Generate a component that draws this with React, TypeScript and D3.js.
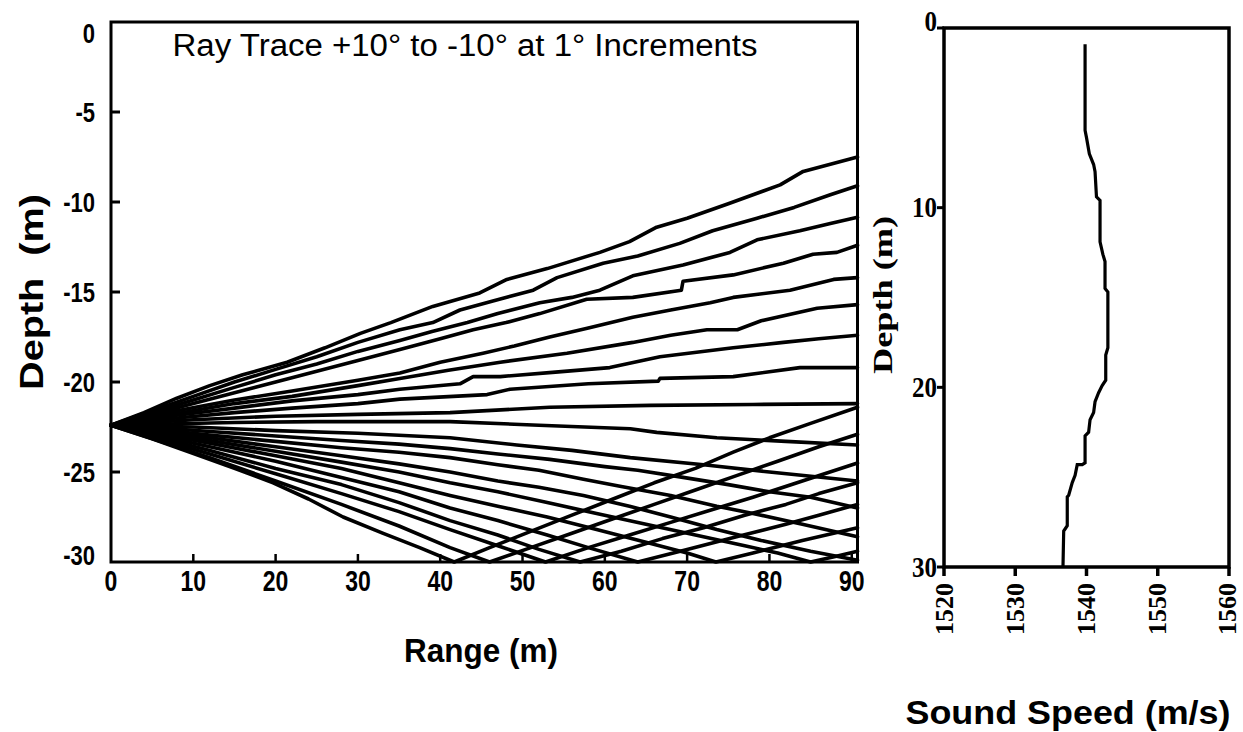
import React from "react";
import * as d3 from "d3";

// Axis ticks
const rangeTicks = [0, 10, 20, 30, 40, 50, 60, 70, 80, 90];
const depthTicks = [0, -5, -10, -15, -20, -25, -30];
const speedTicks = [1520, 1530, 1540, 1550, 1560];
const profileDepthTicks = [0, 10, 20, 30];

// Ray paths: [range (m), depth (m)] pairs, launch angle in the name
const rayUp10: [number, number][] = [[0, -22.4], [4, -21.7], [8, -20.9], [12, -20.2], [16, -19.6], [21.4, -18.9], [26, -18.1], [30.3, -17.3], [34, -16.7], [39.1, -15.8], [44.8, -15.05], [48.1, -14.3], [53, -13.7], [59.4, -12.8], [63, -12.2], [66.3, -11.4], [70, -10.9], [75, -10.1], [81.3, -9.05], [84.1, -8.3], [90.7, -7.5]];
const rayUp9: [number, number][] = [[0, -22.4], [5, -21.6], [10, -20.8], [15, -20.0], [20, -19.3], [25, -18.6], [30, -17.8], [35.1, -17.1], [39.1, -16.7], [42.4, -16.0], [46.4, -15.5], [51.3, -14.9], [54.2, -14.2], [59.8, -13.4], [64, -13.0], [69.1, -12.3], [73.1, -11.6], [78.5, -10.9], [83, -10.3], [87.4, -9.6], [90.7, -9.1]];
const rayUp8: [number, number][] = [[0, -22.4], [5, -21.7], [10, -21.0], [15, -20.3], [20, -19.6], [25, -19.0], [30, -18.3], [35.1, -17.7], [39, -17.2], [43.3, -16.7], [47, -16.2], [52.1, -15.6], [56, -15.3], [59.4, -14.9], [63.4, -14.1], [69.5, -13.5], [75.2, -12.8], [78.5, -12.1], [83.7, -11.6], [87.4, -11.2], [90.7, -10.85]];
const rayUp7: [number, number][] = [[0, -22.4], [5, -21.8], [10, -21.2], [15, -20.6], [20, -20.0], [25, -19.4], [30, -18.8], [35.1, -18.2], [40, -17.6], [44, -17.1], [48, -16.7], [52.1, -16.2], [57.8, -15.4], [63.4, -15.3], [69.3, -14.9], [69.5, -14.4], [75.6, -14.05], [81.7, -13.4], [85.3, -12.9], [88.2, -12.8], [90.7, -12.4]];
const rayUp6: [number, number][] = [[0, -22.4], [3, -22.1], [8, -21.6], [15, -21.0], [22, -20.5], [30, -19.9], [35.1, -19.5], [40, -18.9], [45.2, -18.4], [49, -18.0], [53.3, -17.5], [58, -17.0], [63.4, -16.4], [68, -16.0], [72.8, -15.6], [75.6, -15.3], [82.5, -14.9], [87.8, -14.3], [90.7, -14.2]];
const rayUp5: [number, number][] = [[0, -22.4], [3, -22.15], [8, -21.75], [15, -21.2], [22, -20.8], [30, -20.2], [35.1, -19.8], [41, -19.35], [47.3, -18.9], [55.4, -18.4], [63.4, -17.8], [68, -17.4], [72.4, -17.1], [76.1, -17.1], [79, -16.6], [85.8, -15.9], [90.7, -15.7]];
const rayUp4: [number, number][] = [[0, -22.4], [3, -22.2], [8, -21.85], [15, -21.45], [22, -21.05], [30, -20.7], [35.1, -20.4], [42.4, -20.1], [44, -19.7], [47.3, -19.7], [54, -19.45], [60.6, -19.2], [66.7, -18.6], [75.6, -18.1], [81.7, -17.8], [86, -17.6], [90.7, -17.4]];
const rayUp3: [number, number][] = [[0, -22.4], [3, -22.25], [8, -22.0], [15, -21.7], [22, -21.45], [30, -21.2], [35.1, -20.95], [45.7, -20.7], [48.5, -20.4], [58, -20.1], [66.5, -19.95], [66.7, -19.8], [75.6, -19.7], [83.7, -19.2], [90.7, -19.2]];
const rayUp2: [number, number][] = [[0, -22.4], [3, -22.3], [10, -22.1], [20, -21.9], [30, -21.8], [41.2, -21.7], [53.3, -21.4], [65.5, -21.3], [78, -21.25], [90.7, -21.2]];
const rayUp1: [number, number][] = [[0, -22.4], [5, -22.35], [15, -22.25], [25, -22.2], [33, -22.2], [41.2, -22.2], [52, -22.4], [63.1, -22.6], [66.3, -22.8], [73.6, -23.1], [82, -23.3], [90.7, -23.5]];
const rayFlat: [number, number][] = [[0, -22.4], [10, -22.5], [20, -22.7], [30, -22.85], [41.2, -23.1], [49.3, -23.5], [56, -23.8], [63.1, -24.2], [72, -24.6], [80, -25.0], [90.7, -25.5]];
const rayDown1: [number, number][] = [[0, -22.4], [6, -22.55], [12, -22.75], [20, -23.0], [28, -23.25], [35, -23.45], [41.2, -23.7], [47, -24.0], [53.3, -24.3], [60, -24.7], [64, -24.9], [69.5, -25.3], [75, -25.7], [80, -26.1], [85, -26.4], [90.7, -27.0]];
const rayDown2: [number, number][] = [[0, -22.4], [6, -22.65], [12, -22.95], [20, -23.3], [28, -23.65], [35, -23.9], [41.2, -24.2], [47, -24.6], [52, -24.9], [57.4, -25.4], [62, -25.8], [68, -26.3], [73.6, -26.9], [78, -27.3], [84, -27.9], [90.7, -28.6]];
const rayDown3: [number, number][] = [[0, -22.4], [6, -22.75], [12, -23.1], [20, -23.6], [28, -24.1], [35, -24.55], [41.2, -25.0], [47, -25.5], [52, -25.85], [57.4, -26.3], [63, -26.9], [68, -27.5], [73.6, -28.2], [79, -28.8], [85, -29.4], [90.7, -29.9]];
const rayDown4: [number, number][] = [[0, -22.4], [6, -22.8], [12, -23.25], [20, -23.85], [28, -24.45], [35, -25.0], [41.2, -25.6], [47, -26.1], [53, -26.7], [59, -27.3], [65, -27.9], [71, -28.5], [77, -29.1], [81, -29.5], [85, -30], [88, -29.7], [90.7, -29.4]];
const rayDown5: [number, number][] = [[0, -22.4], [6, -22.9], [12, -23.4], [20, -24.1], [28, -24.8], [35, -25.6], [41.2, -26.3], [47, -26.9], [53, -27.5], [59, -28.2], [65, -28.9], [70, -29.5], [73.5, -30], [78, -29.5], [84, -28.8], [90.7, -28.1]];
const rayDown6: [number, number][] = [[0, -22.4], [6, -23.0], [12, -23.6], [20, -24.4], [28, -25.3], [35, -26.1], [41.2, -27.0], [47, -27.7], [53, -28.5], [58, -29.2], [64, -30], [70, -29.3], [76, -28.6], [82, -27.9], [86, -27.4], [90.7, -26.8]];
const rayDown7: [number, number][] = [[0, -22.4], [6, -23.1], [12, -23.8], [20, -24.8], [28, -25.7], [35, -26.7], [41.2, -27.7], [47, -28.5], [52, -29.3], [57, -30], [62, -29.4], [67, -28.7], [72, -28.1], [77, -27.4], [82, -26.8], [86, -26.2], [90.7, -25.6]];
const rayDown8: [number, number][] = [[0, -22.4], [6, -23.2], [12, -24.0], [20, -25.1], [28, -26.2], [35, -27.2], [41.2, -28.2], [47, -29.1], [52.8, -30], [58, -29.2], [63, -28.5], [68, -27.8], [73, -27.1], [78, -26.4], [84, -25.5], [90.7, -24.5]];
const rayDown9: [number, number][] = [[0, -22.4], [6, -23.3], [12, -24.2], [20, -25.5], [28, -26.8], [35, -28.0], [41.2, -29.2], [46, -30], [51, -29.2], [56, -28.4], [61, -27.6], [66, -26.8], [71, -26.0], [76, -25.2], [81, -24.4], [86, -23.6], [90.7, -22.9]];
const rayDown10: [number, number][] = [[0, -22.4], [5, -23.15], [9.6, -23.9], [15, -24.8], [19.7, -25.6], [24, -26.5], [28.2, -27.5], [33, -28.4], [37.5, -29.2], [41.7, -30], [46, -29.2], [51, -28.3], [56, -27.4], [61, -26.5], [66, -25.6], [71, -24.8], [75.6, -23.9], [80, -23.1], [85, -22.3], [90.7, -21.4]];

const rays = [
  rayUp10, rayUp9, rayUp8, rayUp7, rayUp6, rayUp5, rayUp4, rayUp3, rayUp2, rayUp1,
  rayFlat,
  rayDown1, rayDown2, rayDown3, rayDown4, rayDown5, rayDown6, rayDown7, rayDown8, rayDown9, rayDown10,
];

// Sound speed profile
const profileSpeed = [1539.8, 1539.8, 1540.0, 1540.4, 1541.0, 1541.2, 1541.4, 1541.9, 1541.9, 1542.3, 1542.6, 1542.6, 1543.0, 1543.0, 1542.7, 1542.7, 1542.2, 1541.7, 1541.2, 1541.0, 1540.5, 1540.3, 1539.8, 1539.8, 1539.4, 1538.7, 1538.4, 1538.0, 1537.5, 1537.3, 1537.3, 1536.8, 1536.7];
const profileDepth = [0.9, 5.7, 6.1, 7.0, 7.6, 8.0, 9.4, 9.6, 11.9, 12.6, 13.0, 14.5, 14.7, 17.8, 18.2, 19.6, 19.9, 20.3, 20.8, 21.4, 21.8, 22.5, 22.7, 24.2, 24.3, 24.3, 24.9, 25.3, 26.0, 26.1, 27.7, 28.0, 30.0];

const SANS = "'Liberation Sans', Arial, Helvetica, sans-serif";
const SERIF = "'Liberation Serif', 'Times New Roman', Times, serif";

export default function App() {
  const x = d3.scaleLinear().domain([0, 90.7]).range([111, 857.5]);
  const y = d3.scaleLinear().domain([0, -30]).range([22, 562]);
  const sx = d3.scaleLinear().domain([1520, 1560]).range([944, 1229]);
  const sy = d3.scaleLinear().domain([0, 30]).range([28, 567]);

  const rayLine = d3.line<[number, number]>().x((d) => x(d[0])).y((d) => y(d[1]));
  const profilePts = profileSpeed.map((s, i) => [s, profileDepth[i]] as [number, number]);
  const profileLine = d3.line<[number, number]>().x((d) => sx(d[0])).y((d) => sy(d[1]));

  const [x0, x1] = x.range();
  const [y0, y1] = y.range();
  const [px0, px1] = sx.range();
  const [py0, py1] = sy.range();

  return (
    <svg width={1243} height={732} style={{ position: "absolute", left: 0, top: 0, display: "block", background: "#fff" }}>
      {/* left panel: ray fan */}
      <g>
        {rays.map((r, i) => (
          <path key={i} d={rayLine(r) || ""} fill="none" stroke="#000" strokeWidth={3.6} strokeLinejoin="round" strokeLinecap="round" />
        ))}
        <rect x={x0} y={y0} width={x1 - x0} height={y1 - y0} fill="none" stroke="#000" strokeWidth={3} />
        {depthTicks.slice(1, -1).map((t) => (
          <line key={t} x1={x0} x2={x0 + 9} y1={y(t)} y2={y(t)} stroke="#000" strokeWidth={3} />
        ))}
        {rangeTicks.slice(1).map((t) => (
          <line key={t} x1={x(t)} x2={x(t)} y1={y1} y2={y1 - 8} stroke="#000" strokeWidth={2.5} />
        ))}
        {depthTicks.map((t, i) => (
          <text key={t} transform={`translate(95,${y(t) + (i === 0 ? 11 : i === depthTicks.length - 1 ? -7 : 0)}) scale(1,1.25)`}
            textAnchor="end" dominantBaseline="central" fontFamily={SANS} fontWeight="bold" fontSize={22}>{t}</text>
        ))}
        {rangeTicks.map((t) => (
          <text key={t} transform={`translate(${x(t)},581) scale(1,1.3)`} textAnchor="middle" dominantBaseline="central"
            fontFamily={SANS} fontWeight="bold" fontSize={23}>{t}</text>
        ))}
        <text x={465} y={45} textAnchor="middle" dominantBaseline="central" fontFamily={SANS} fontSize={31}
          textLength={585} lengthAdjust="spacingAndGlyphs">
          Ray Trace +10° to -10° at 1° Increments
        </text>
        <text transform="translate(481,650) scale(1,1.1)" textAnchor="middle" dominantBaseline="central" fontFamily={SANS} fontWeight="bold" fontSize={31}
          textLength={154} lengthAdjust="spacingAndGlyphs">
          Range (m)
        </text>
        <text transform="translate(31,292) rotate(-90)" textAnchor="middle" dominantBaseline="central" fontFamily={SANS} fontWeight="bold" fontSize={33}
          textLength={196} lengthAdjust="spacingAndGlyphs" style={{ whiteSpace: "pre" }}>
          {"Depth  (m)"}
        </text>
      </g>

      {/* right panel: sound speed profile */}
      <g>
        <path d={profileLine(profilePts) || ""} fill="none" stroke="#000" strokeWidth={3.2} />
        <rect x={px0} y={py0} width={px1 - px0} height={py1 - py0} fill="none" stroke="#000" strokeWidth={3.5} />
        {speedTicks.map((t) => (
          <line key={t} x1={sx(t)} x2={sx(t)} y1={py1} y2={py1 + 9} stroke="#000" strokeWidth={3.5} />
        ))}
        {profileDepthTicks.map((t) => (
          <line key={t} x1={px0 - 7} x2={px0} y1={sy(t)} y2={sy(t)} stroke="#000" strokeWidth={3} />
        ))}
        {profileDepthTicks.map((t, i) => (
          <text key={t} transform={`translate(937,${i === 0 ? 21 : sy(t)}) scale(1,1.15)`} textAnchor="end" dominantBaseline="central"
            fontFamily={SERIF} fontWeight="bold" fontSize={25}>{t}</text>
        ))}
        {speedTicks.map((t, i) => (
          <text key={t} transform={`translate(${sx(t) - (i === speedTicks.length - 1 ? 2 : 0)},${py1 + 16}) rotate(-90)`} textAnchor="end" dominantBaseline="central"
            fontFamily={SERIF} fontWeight="bold" fontSize={26}>{t}</text>
        ))}
        <text transform="translate(882,295) rotate(-90)" textAnchor="middle" dominantBaseline="central" fontFamily={SERIF} fontWeight="bold" fontSize={28}
          textLength={158} lengthAdjust="spacingAndGlyphs">
          Depth (m)
        </text>
        <text x={1068} y={712} textAnchor="middle" dominantBaseline="central" fontFamily={SANS} fontWeight="bold" fontSize={33}
          textLength={325} lengthAdjust="spacingAndGlyphs">
          Sound Speed (m/s)
        </text>
      </g>
    </svg>
  );
}
